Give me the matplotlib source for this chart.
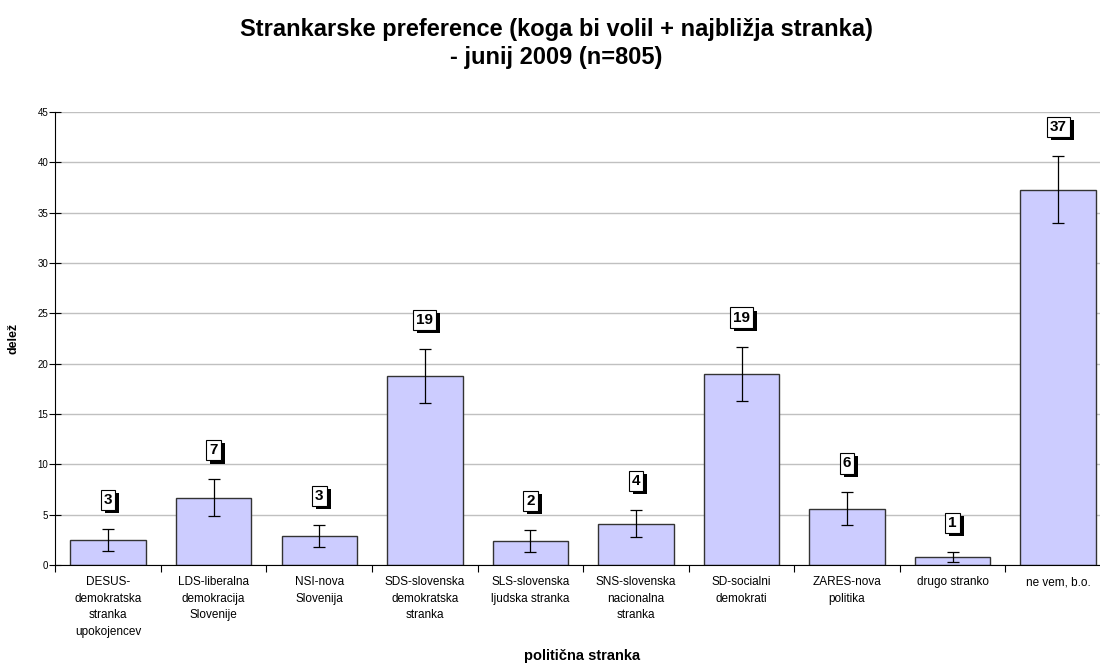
import matplotlib
matplotlib.use('Agg')
from matplotlib import pyplot as plt
import matplotlib.patheffects as pe
import numpy as np

plt.rcParams['font.family'] = ['Liberation Sans', 'DejaVu Sans']

# data
categories = ['DESUS-\ndemokratska\nstranka\nupokojencev', 'LDS-liberalna\ndemokracija\nSlovenije',
              'NSI-nova\nSlovenija', 'SDS-slovenska\ndemokratska\nstranka', 'SLS-slovenska\nljudska stranka',
              'SNS-slovenska\nnacionalna\nstranka', 'SD-socialni\ndemokrati', 'ZARES-nova\npolitika',
              'drugo stranko', 'ne vem, b.o.']
values = [2.5, 6.7, 2.9, 18.8, 2.4, 4.1, 19.0, 5.6, 0.8, 37.3]
errors = [1.1, 1.8, 1.1, 2.7, 1.1, 1.35, 2.7, 1.6, 0.5, 3.3]
labels = ['3', '7', '3', '19', '2', '4', '19', '6', '1', '37']

fig = plt.figure(figsize=(11, 6.66), dpi=100)
ax = fig.add_axes([0.0503, 0.1517, 0.9597, 0.6801])

x = np.arange(len(values))
ax.bar(x, values, width=0.715, color='#ccccff', edgecolor='#333333', linewidth=1.0, zorder=2)
ax.errorbar(x, values, yerr=errors, fmt='none', ecolor='black', elinewidth=0.9,
            capsize=4, capthick=0.9, zorder=3)

# value boxes with a drop shadow
for xi, v, e, lab in zip(x, values, errors, labels):
    t = ax.annotate(lab, (xi, v + e), xytext=(0, 29), textcoords='offset pixels', ha='center', va='center',
                    fontsize=11, fontweight='bold', color='black',
                    bbox=dict(boxstyle='square,pad=0.2', fc='white', ec='black', lw=0.8), zorder=5)
    t.get_bbox_patch().set_path_effects([pe.withSimplePatchShadow(offset=(2.9, -2.2), shadow_rgbFace='black', alpha=1.0)])

ax.set_xlim(-0.5, len(values) - 0.5)
ax.set_ylim(0, 45)
ax.set_yticks(np.arange(0, 46, 5))
ax.yaxis.grid(True, color='#c0c0c0', linewidth=1.0, zorder=0)
ax.set_axisbelow(True)

ax.set_xticks(x)
ax.set_xticklabels(categories, fontsize=8.5, linespacing=1.52, va='top')
ax.set_xticks(np.arange(-0.5, len(values), 1), minor=True)
ax.tick_params(axis='x', which='major', length=0, pad=8)
ax.tick_params(axis='x', which='minor', length=5, width=0.8, direction='out')
ax.tick_params(axis='y', labelsize=7, length=8, width=0.8, direction='inout', pad=1)

for s in ['top', 'right']:
    ax.spines[s].set_visible(False)
ax.spines['left'].set_color('black')
ax.spines['bottom'].set_color('black')

ax.set_ylabel('delež', fontsize=9, fontweight='bold')
ax.yaxis.set_label_coords(-0.034, 0.5)
ax.set_xlabel('politična stranka', fontsize=10.5, fontweight='bold')
ax.xaxis.set_label_coords(0.499, -0.186)
fig.text(0.506, 1 - 36 / 666, 'Strankarske preference (koga bi volil + najbližja stranka)',
         ha='center', va='baseline', fontsize=17, fontweight='bold')
fig.text(0.506, 1 - 64 / 666, '- junij 2009 (n=805)',
         ha='center', va='baseline', fontsize=17, fontweight='bold')

plt.savefig('out.png', dpi=100)
